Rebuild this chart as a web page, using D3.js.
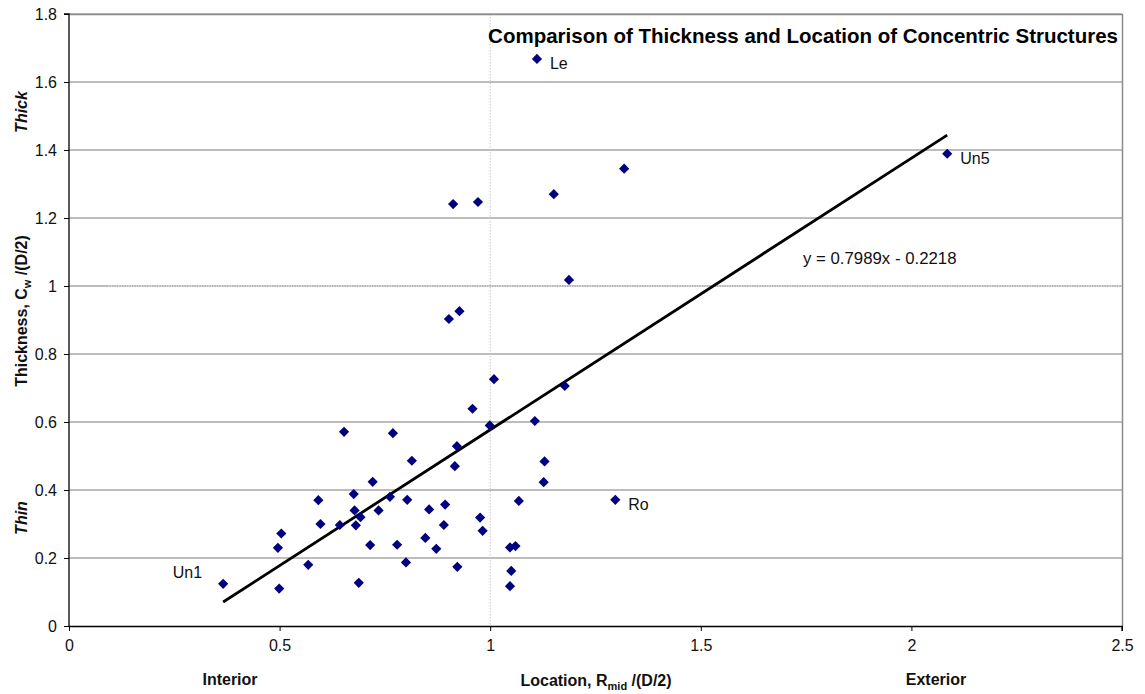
<!DOCTYPE html>
<html>
<head>
<meta charset="utf-8">
<script src="https://cdn.jsdelivr.net/npm/d3@7"></script>
<style>
  html, body { margin: 0; padding: 0; background: #fff; }
  svg { display: block; font-family: "Liberation Sans", Arial, sans-serif; }
</style>
</head>
<body>
<svg id="chart" width="1145" height="694"></svg>
<script>
// Location (R_mid / (D/2)) and thickness (C_w / (D/2)) of each structure
const locations = [
  0.366, 0.499, 0.496, 0.504, 0.568, 0.592, 0.597, 0.643, 0.653, 0.676,
  0.678, 0.681, 0.692, 0.688, 0.715, 0.721, 0.735, 0.762, 0.769, 0.779,
  0.800, 0.803, 0.814, 0.846, 0.855, 0.872, 0.893, 0.890, 0.921, 0.916,
  0.922, 0.958, 0.976, 0.982, 0.999, 1.009, 1.047, 1.060, 1.050, 1.047,
  1.068, 1.106, 1.129, 1.127, 1.177, 1.297, 0.902, 0.927, 0.912, 0.971,
  1.151, 1.318, 1.187, 1.111, 2.085
];
const thicknesses = [
  0.124, 0.110, 0.230, 0.272, 0.180, 0.370, 0.300, 0.297, 0.571, 0.388,
  0.340, 0.296, 0.320, 0.127, 0.238, 0.424, 0.340, 0.380, 0.567, 0.239,
  0.187, 0.371, 0.486, 0.259, 0.343, 0.227, 0.357, 0.297, 0.529, 0.470,
  0.174, 0.639, 0.319, 0.280, 0.590, 0.726, 0.231, 0.235, 0.162, 0.117,
  0.368, 0.603, 0.484, 0.423, 0.706, 0.371, 0.903, 0.926, 1.241, 1.247,
  1.270, 1.345, 1.018, 1.668, 1.389
];
// Named structures: index into the arrays above
const namedPoints = [
  { name: "Un1", index: 0, side: "left" },
  { name: "Le",  index: 53, side: "right" },
  { name: "Un5", index: 54, side: "right" },
  { name: "Ro",  index: 45, side: "right" }
];
// Linear fit y = slope * x + intercept
const fitSlope = 0.7989;
const fitIntercept = -0.2218;

const xTicks = [0, 0.5, 1, 1.5, 2, 2.5];
const yTicks = [0, 0.2, 0.4, 0.6, 0.8, 1, 1.2, 1.4, 1.6, 1.8];
const xDomain = [0, 2.5];
const yDomain = [0, 1.8];

const titleText = "Comparison of Thickness and Location of Concentric Structures";

const svg = d3.select("#chart");
const plotLeft = 69, plotRight = 1122, plotTop = 14, plotBottom = 626;

const x = d3.scaleLinear().domain(xDomain).range([plotLeft, plotRight]);
const y = d3.scaleLinear().domain(yDomain).range([plotBottom, plotTop]);

// Horizontal gridlines
svg.append("g")
  .selectAll("line")
  .data(yTicks.filter(v => v > 0))
  .join("line")
  .attr("x1", plotLeft).attr("x2", plotRight)
  .attr("y1", d => y(d)).attr("y2", d => y(d))
  .attr("stroke", "#7a7a7a")
  .attr("stroke-width", 1);

// Reference lines at x = 1 and y = 1 (dotted)
svg.append("line")
  .attr("x1", x(0.09)).attr("x2", plotRight)
  .attr("y1", y(1)).attr("y2", y(1))
  .attr("stroke", "#ffffff").attr("stroke-width", 1.2);
svg.append("line")
  .attr("x1", x(0.09)).attr("x2", plotRight)
  .attr("y1", y(1)).attr("y2", y(1))
  .attr("stroke", "#8e8e8e").attr("stroke-width", 1)
  .attr("stroke-dasharray", "1.5,1");
svg.append("line")
  .attr("x1", x(1)).attr("x2", x(1))
  .attr("y1", plotTop).attr("y2", plotBottom)
  .attr("stroke", "#c4c4c4").attr("stroke-width", 1)
  .attr("stroke-dasharray", "1.5,1.5");

// Frame (top and right)
svg.append("path")
  .attr("d", `M${plotLeft},${plotTop + 0.5}H${plotRight + 0.5}V${plotBottom}`)
  .attr("fill", "none")
  .attr("stroke", "#8c8c8c")
  .attr("stroke-width", 1.5);

// Axes
const fmt = d => (d === 0 ? "0" : String(d));
const yAxis = svg.append("g")
  .attr("transform", `translate(${plotLeft},0)`)
  .call(d3.axisLeft(y).tickValues(yTicks).tickFormat(fmt).tickSize(5).tickPadding(7));
const xAxis = svg.append("g")
  .attr("transform", `translate(0,${plotBottom})`)
  .call(d3.axisBottom(x).tickValues(xTicks).tickFormat(fmt).tickSize(5).tickPadding(9));

[yAxis, xAxis].forEach(ax => {
  ax.select(".domain").attr("stroke", "#000").attr("stroke-width", 1.3);
  ax.selectAll(".tick line").attr("stroke", "#000").attr("stroke-width", 1);
  ax.selectAll(".tick text")
    .attr("fill", "#111")
    .style("font-size", "16px")
    .style("font-family", "'Liberation Sans', Arial, sans-serif");
});
xAxis.select(".domain").attr("d", `M${plotLeft},0.5H${plotRight}V5`);
yAxis.select(".domain").attr("d", `M-5,${plotTop}H0V${plotBottom}`);

// Trend line across the observed location range
const [xMin, xMax] = d3.extent(locations);
svg.append("line")
  .attr("x1", x(xMin)).attr("y1", y(fitSlope * xMin + fitIntercept))
  .attr("x2", x(xMax)).attr("y2", y(fitSlope * xMax + fitIntercept))
  .attr("stroke", "#000")
  .attr("stroke-width", 2.8)
  .attr("stroke-linecap", "butt");

// Data markers (diamonds)
const diamond = d3.symbol().type(d3.symbolSquare).size(52);
svg.append("g")
  .selectAll("path")
  .data(locations.map((v, i) => [v, thicknesses[i]]))
  .join("path")
  .attr("d", diamond)
  .attr("transform", d => `translate(${x(d[0])},${y(d[1])}) rotate(45)`)
  .attr("fill", "#000080");

// Labels for named structures
svg.append("g")
  .selectAll("text")
  .data(namedPoints)
  .join("text")
  .attr("x", d => x(locations[d.index]) + (d.side === "left" ? -21 : 13))
  .attr("y", d => y(thicknesses[d.index]) + (d.side === "left" ? -6 : 10))
  .attr("text-anchor", d => (d.side === "left" ? "end" : "start"))
  .style("font-size", "16px")
  .attr("fill", "#111")
  .text(d => d.name);

// Fit equation
svg.append("text")
  .attr("x", 803).attr("y", 264)
  .style("font-size", "16.8px")
  .attr("fill", "#111")
  .text(`y = ${fitSlope}x - ${Math.abs(fitIntercept)}`);

// Title
svg.append("text")
  .attr("x", 1118).attr("y", 43)
  .attr("text-anchor", "end")
  .style("font-size", "20.5px")
  .style("font-weight", "bold")
  .attr("fill", "#000")
  .text(titleText);

// Y-axis titles
const yTitle = svg.append("text")
  .attr("transform", "translate(27,311) rotate(-90)")
  .attr("text-anchor", "middle")
  .style("font-size", "16px")
  .style("font-weight", "bold")
  .attr("fill", "#111");
yTitle.append("tspan").text("Thickness, C");
yTitle.append("tspan").attr("dy", 4).style("font-size", "11px").text("w");
yTitle.append("tspan").attr("dy", -4).text(" /(D/2)");

svg.append("text")
  .attr("transform", "translate(27,112) rotate(-90)")
  .attr("text-anchor", "middle")
  .style("font-size", "16px")
  .style("font-weight", "bold")
  .style("font-style", "italic")
  .attr("fill", "#111")
  .text("Thick");
svg.append("text")
  .attr("transform", "translate(27,518) rotate(-90)")
  .attr("text-anchor", "middle")
  .style("font-size", "16px")
  .style("font-weight", "bold")
  .style("font-style", "italic")
  .attr("fill", "#111")
  .text("Thin");

// X-axis titles
const xTitle = svg.append("text")
  .attr("x", 596).attr("y", 686)
  .attr("text-anchor", "middle")
  .style("font-size", "16px")
  .style("font-weight", "bold")
  .attr("fill", "#111");
xTitle.append("tspan").text("Location, R");
xTitle.append("tspan").attr("dy", 4).style("font-size", "11px").text("mid");
xTitle.append("tspan").attr("dy", -4).text(" /(D/2)");

svg.append("text")
  .attr("x", 230).attr("y", 685)
  .attr("text-anchor", "middle")
  .style("font-size", "16px")
  .style("font-weight", "bold")
  .attr("fill", "#111")
  .text("Interior");
svg.append("text")
  .attr("x", 936).attr("y", 685)
  .attr("text-anchor", "middle")
  .style("font-size", "16px")
  .style("font-weight", "bold")
  .attr("fill", "#111")
  .text("Exterior");
</script>
</body>
</html>
